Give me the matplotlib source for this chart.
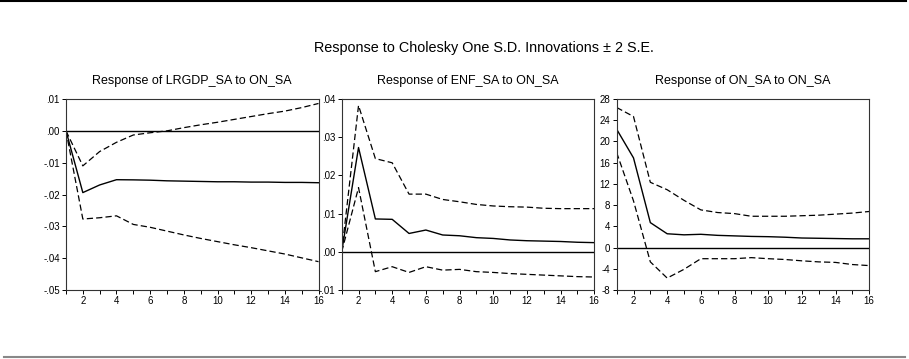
import matplotlib
matplotlib.use("Agg")
import matplotlib.pyplot as plt
from matplotlib.lines import Line2D

plt.rcParams["font.family"] = ["Liberation Sans", "DejaVu Sans"]

periods = list(range(1, 17))

# Response of LRGDP_SA to ON_SA
gdp_mean = [0.0, -0.0194, -0.0170, -0.01535, -0.0154, -0.0155, -0.0157, -0.0158,
            -0.0159, -0.0160, -0.0160, -0.0161, -0.0161, -0.0162, -0.0162, -0.0163]
gdp_upper = [0.0, -0.0110, -0.0065, -0.0036, -0.0013, -0.0006, 0.0000, 0.0010,
             0.0019, 0.0027, 0.0036, 0.0045, 0.0054, 0.0062, 0.0073, 0.0086]
gdp_lower = [0.0, -0.0277, -0.0273, -0.0267, -0.0294, -0.0303, -0.0315, -0.0327,
             -0.0338, -0.0348, -0.0358, -0.0367, -0.0377, -0.0387, -0.0399, -0.0411]

# Response of ENF_SA to ON_SA
enf_mean = [0.0, 0.0273, 0.0086, 0.0085, 0.0048, 0.0057, 0.0044, 0.0042,
            0.0037, 0.0035, 0.0031, 0.0029, 0.0028, 0.0027, 0.0025, 0.0024]
enf_upper = [0.0, 0.0383, 0.0244, 0.0233, 0.0151, 0.0151, 0.0137, 0.0131,
             0.0124, 0.0120, 0.0118, 0.0117, 0.0114, 0.0113, 0.0113, 0.0113]
enf_lower = [0.0, 0.0168, -0.0052, -0.0039, -0.0054, -0.0039, -0.0048, -0.0046,
             -0.0052, -0.0054, -0.0057, -0.0059, -0.0061, -0.0063, -0.0065, -0.0066]

# Response of ON_SA to ON_SA
on_mean = [22.3, 16.9, 4.7, 2.6, 2.4, 2.5, 2.3, 2.2,
           2.1, 2.05, 1.95, 1.8, 1.75, 1.7, 1.65, 1.65]
on_upper = [26.4, 24.7, 12.3, 10.9, 8.9, 7.1, 6.6, 6.4,
            5.9, 5.9, 5.9, 6.0, 6.1, 6.3, 6.5, 6.8]
on_lower = [17.9, 8.8, -2.7, -5.75, -4.1, -2.1, -2.1, -2.1,
            -1.9, -2.1, -2.25, -2.5, -2.7, -2.8, -3.2, -3.4]

titles = ["Response of LRGDP_SA to ON_SA",
          "Response of ENF_SA to ON_SA",
          "Response of ON_SA to ON_SA"]

gdp_ticks = [0.01, 0.0, -0.01, -0.02, -0.03, -0.04, -0.05]
gdp_labels = [".01", ".00", "-.01", "-.02", "-.03", "-.04", "-.05"]
enf_ticks = [0.04, 0.03, 0.02, 0.01, 0.0, -0.01]
enf_labels = [".04", ".03", ".02", ".01", ".00", "-.01"]
on_ticks = [28, 24, 20, 16, 12, 8, 4, 0, -4, -8]
on_labels = ["28", "24", "20", "16", "12", "8", "4", "0", "-4", "-8"]

panels = [
    (gdp_mean, gdp_upper, gdp_lower, gdp_ticks, gdp_labels),
    (enf_mean, enf_upper, enf_lower, enf_ticks, enf_labels),
    (on_mean, on_upper, on_lower, on_ticks, on_labels),
]

fig = plt.figure(figsize=(9.09, 3.59), dpi=100)

lefts = [0.0726, 0.3759, 0.6784]
width = 0.2778
bottom = 0.1922
height = 0.532

for i, (mean, upper, lower, yt, yl) in enumerate(panels):
    ax = fig.add_axes([lefts[i], bottom, width, height])
    ax.plot(periods, mean, color="black", lw=1.0)
    ax.plot(periods, upper, color="black", lw=0.9, dashes=(5, 2.5))
    ax.plot(periods, lower, color="black", lw=0.9, dashes=(5, 2.5))
    ax.axhline(0, color="black", lw=1.0)
    ax.set_xlim(1, 16)
    ax.set_ylim(yt[-1], yt[0])
    ax.set_yticks(yt)
    ax.set_yticklabels(yl)
    ax.set_xticks(periods)
    ax.set_xticklabels([str(p) if p % 2 == 0 else "" for p in periods])
    ax.tick_params(axis="both", direction="out", length=3, width=0.7,
                   labelsize=7, pad=1.5)
    for s in ax.spines.values():
        s.set_linewidth(0.8)
        s.set_color("#333333")
    ax.set_title(titles[i], fontsize=9, pad=11)

fig.text(0.532, 0.867, "Response to Cholesky One S.D. Innovations \u00b1 2 S.E.",
         ha="center", va="center", fontsize=10.4)

# frame lines at top and bottom of the page
fig.add_artist(Line2D([0.0, 0.997], [0.997, 0.997], color="black", lw=1.5,
                      transform=fig.transFigure))
fig.add_artist(Line2D([0.004, 0.996], [0.006, 0.006], color="#888888", lw=1.5,
                      transform=fig.transFigure))

fig.savefig("out.png", dpi=100)
